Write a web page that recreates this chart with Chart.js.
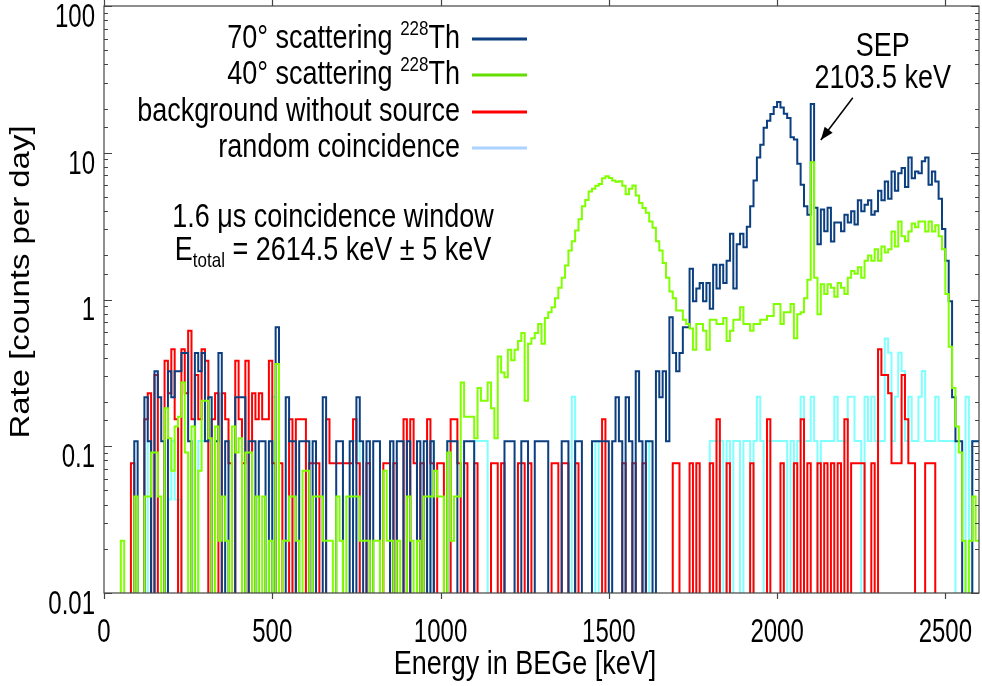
<!DOCTYPE html>
<html>
<head>
<meta charset="utf-8">
<script src="https://cdn.jsdelivr.net/npm/chart.js@4.4.0/dist/chart.umd.min.js"></script>
<style>
  html, body { margin: 0; padding: 0; background: #fff; }
  #wrap { width: 982px; height: 686px; }
</style>
</head>
<body>
<div id="wrap"><canvas id="c" width="982" height="686"></canvas></div>
<script>
// histogram binning (keV)
const binWidth = 10;

// counts per 10 keV bin, one row = 100 keV
const counts70 = [
  [0,0,0,0,0,0,0,0,0,1], [0,0,2,1,0,3,2,1,0,3], [2,3,3,4,4,1,0,4,3,4], [1,2,0,1,4,0,1,0,0,2],
  [2,2,0,1,1,0,1,1,0,1], [0,6,0,0,2,1,1,0,1,1], [1,0,1,0,0,2,0,0,0,1], [1,0,0,1,0,2,1,0,1,0],
  [1,1,0,0,0,1,0,1,1,0], [1,0,0,1,0,1,0,1,0,0], [0,0,1,1,1,0,0,1,1,1], [0,0,0,0,0,0,0,0,0,1],
  [1,1,0,0,1,1,0,0,1,1], [1,1,0,0,0,0,1,1,0,0], [1,1,0,0,0,1,1,1,1,1], [0,1,2,1,0,2,1,0,3,1],
  [0,1,1,0,3,2,3,1,7,4], [3,4,6,6,15,9,11,12,9,12], [8,16,11,16,12,17,26,11,22,26],
  [21,29,40,60,86,105,137,153,170,190], [205,188,171,160,118,114,78,56,40,35],
  [199,39,22,38,27,39,23,31,31,27], [35,31,37,30,44,37,41,44,35,37],
  [51,44,59,45,69,51,67,73,54,86], [62,69,67,81,86,56,69,59,45,28], [17,9,2,1,1,0,0,0,1,1]
];
const counts40 = [
  [0,0,0,0,0,1,0,0,0,2], [0,0,2,2,4,4,2,0,8,5], [3,6,7,12,4,0,6,0,3,9], [9,5,0,6,1,2,1,0,6,4],
  [5,0,4,4,0,2,0,2,0,1], [0,16,0,1,1,2,2,1,0,3], [3,0,2,2,2,1,1,1,0,2], [1,0,2,2,2,2,1,1,1,0],
  [1,1,0,3,1,1,0,1,0,0], [2,1,0,1,0,2,2,2,3,2], [2,0,4,1,2,2,12,7,7,7], [5,11,9,9,12,8,5,18,14,13],
  [20,17,20,23,26,9,22,24,26,30], [22,33,36,39,45,53,62,75,95,110],
  [130,155,190,210,240,250,262,270,295,305], [296,285,280,282,262,230,250,264,225,200],
  [185,172,150,136,110,95,78,62,50,45], [37,37,32,30,28,20,30,30,27,20],
  [32,32,30,30,33,23,27,32,32,39], [30,30,27,30,30,32,32,34,34,41],
  [41,30,36,36,41,24,35,36,45,60], [379,62,35,56,48,56,53,46,57,53],
  [48,62,69,66,73,62,81,88,81,97], [81,101,92,97,128,101,150,119,110,128],
  [145,137,150,150,128,150,128,141,119,97], [48,21,11,6,4,1,0,1,2,1]
];
const countsBg = [
  [0,0,0,0,0,0,0,0,1,0], [0,0,2,3,0,4,0,0,5,3], [6,2,0,6,3,8,2,4,2,6], [5,0,2,3,0,3,2,1,0,5],
  [2,1,5,0,3,2,3,2,2,5], [1,0,1,0,0,2,0,2,2,2], [0,1,1,1,0,0,2,1,1,1], [1,1,1,1,2,1,0,0,1,0],
  [0,0,0,1,1,0,1,0,0,2], [0,2,1,0,1,0,2,1,0,1], [1,0,0,2,2,1,0,1,0,0], [1,0,0,0,0,1,1,0,1,0],
  [0,0,0,1,1,0,1,0,0,0], [0,0,0,1,1,0,1,1,0,0], [1,0,0,0,0,0,0,0,2,0], [0,0,0,0,1,0,0,1,0,0],
  [1,0,0,0,0,0,0,0,0,1], [1,0,0,0,1,0,1,0,0,0], [1,0,2,0,0,1,0,0,0,0], [0,0,1,0,0,0,0,2,0,0],
  [0,1,0,0,0,1,0,2,0,1], [0,0,1,0,1,0,1,0,1,0], [2,0,1,1,1,1,0,0,1,0], [6,4,4,3,1,1,1,4,2,1],
  [1,0,0,0,1,1,1,0,0,0], [0,0,0,0,0,0,0,0,0,0]
];
const countsRandom = [
  [0,0,0,0,0,0,0,0,0,0], [0,0,0,5,0,0,0,0,0,2], [5,2,2,0,0,0,0,0,5,5], [5,0,0,0,0,0,0,0,0,0],
  [0,0,0,0,0,0,0,0,0,0], [10,0,0,0,0,5,0,0,0,0], [5,0,0,0,0,0,0,0,0,0], [0,0,0,0,5,5,0,0,0,0],
  [0,0,0,0,0,0,0,0,0,0], [0,0,0,0,0,0,0,5,0,0], [0,0,5,0,0,0,0,0,0,0], [5,5,5,5,0,0,0,0,0,0],
  [0,0,0,0,0,0,0,0,0,0], [0,0,0,0,0,0,0,0,0,10], [0,0,0,0,0,0,5,0,0,0], [0,0,0,0,0,0,0,0,0,0],
  [0,5,0,0,0,0,0,0,0,0], [0,0,0,0,0,0,0,0,0,0], [5,5,5,5,0,5,0,5,5,0], [5,5,0,5,10,5,0,5,5,5],
  [5,5,5,0,5,0,5,10,5,5], [10,5,0,5,5,5,5,10,5,5], [5,10,10,5,5,0,10,5,10,5],
  [5,5,25,20,5,10,20,15,5,10], [5,5,10,15,5,5,5,10,5,5], [5,5,5,0,0,0,10,0,5,5]
];

// rate (counts per day) of one count in each run
const unit70 = 0.108, unit40 = 0.0227, unitBg = 0.0765, unitRandom = 0.0217;

const xTickLabels = [0, 500, 1000, 1500, 2000, 2500];
const yTickLabels = ['0.01', '0.1', '1', '10', '100'];

const labels = ['70° scattering ', '40° scattering ', 'background without source', 'random coincidence'];
const colors = ['#0b3f80', '#80ff00', '#ff0000', '#80ffff'];
const legendColors = ['#0b3f80', '#66dd00', '#ff0000', '#aad4ff'];

const FONT = "'Liberation Sans', Arial, sans-serif";
const STRETCH = 1.22;      // text in the picture is drawn taller than wide
const TICK_STRETCH = 1.35;

function toSteps(rows, unit) {
  const c = rows.flat();
  const pts = c.map((n, i) => ({ x: i * binWidth, y: n > 0 ? n * unit : 1e-4 }));
  pts.push({ x: c.length * binWidth, y: pts[pts.length - 1].y });
  return pts;
}

function ds(i, rows, unit, order) {
  return {
    label: labels[i],
    data: toSteps(rows, unit),
    borderColor: colors[i],
    borderWidth: 2,
    pointRadius: 0,
    stepped: 'before',
    fill: false,
    clip: 0,
    order: order
  };
}

// tick labels are drawn taller than wide, as in the picture
const stretchPlugin = {
  id: 'stretch',
  beforeDraw(chart) {
    const ctx = chart.ctx;
    const orig = CanvasRenderingContext2D.prototype.fillText;
    ctx.fillText = function (t, x, y) {
      if (this.textBaseline === 'middle' && y < 12) y = 12; // keep "100" inside the canvas
      this.save();
      this.translate(x, y);
      this.scale(1, TICK_STRETCH);
      orig.call(this, t, 0, 0);
      this.restore();
    };
  },
  beforeDatasetsDraw(chart) {
    delete chart.ctx.fillText;
  }
};

// frame + tick marks
const framePlugin = {
  id: 'frame',
  afterDatasetsDraw(chart) {
    const { ctx, chartArea: a, scales } = chart;
    ctx.save();
    ctx.strokeStyle = '#444';
    ctx.lineWidth = 1.2;
    ctx.strokeRect(a.left, a.top, a.right - a.left, a.bottom - a.top);
    ctx.beginPath();
    scales.x.ticks.forEach(t => {
      const x = Math.round(scales.x.getPixelForValue(t.value)) + 0.5;
      ctx.moveTo(x, a.bottom); ctx.lineTo(x, a.bottom + 6);
      ctx.moveTo(x, a.top); ctx.lineTo(x, a.top - 6);
    });
    scales.y.ticks.forEach(t => {
      const lg = Math.log10(t.value);
      const major = Math.abs(lg - Math.round(lg)) < 1e-6;
      const len = major ? 8 : 4;
      const y = Math.round(scales.y.getPixelForValue(t.value)) + 0.5;
      ctx.moveTo(a.left, y); ctx.lineTo(a.left + len, y);
      ctx.moveTo(a.right, y); ctx.lineTo(a.right - len, y);
    });
    ctx.stroke();
    ctx.restore();
  }
};

function richText(ctx, parts, x, y, align, rot) {
  let w = 0;
  parts.forEach(p => { ctx.font = p.size + 'px ' + FONT; w += ctx.measureText(p.t).width; });
  ctx.save();
  ctx.translate(x, y);
  if (rot) { ctx.rotate(rot); ctx.scale(STRETCH, 1); }
  let cx = align === 'right' ? -w : align === 'center' ? -w / 2 : 0;
  parts.forEach(p => {
    ctx.font = p.size + 'px ' + FONT;
    ctx.save();
    ctx.translate(cx, p.dy || 0);
    if (!rot) ctx.scale(1, STRETCH);
    ctx.fillText(p.t, 0, 0);
    ctx.restore();
    cx += ctx.measureText(p.t).width;
  });
  ctx.restore();
}

const notesPlugin = {
  id: 'notes',
  afterDraw(chart) {
    const { ctx, scales } = chart;
    const X = v => scales.x.getPixelForValue(v);
    const Y = v => scales.y.getPixelForValue(v);
    ctx.save();
    ctx.fillStyle = '#000';
    ctx.textBaseline = 'middle';
    // axis titles
    richText(ctx, [{ t: 'Energy in BEGe [keV]', size: 27 }], 525, 665, 'center');
    richText(ctx, [{ t: 'Rate [counts per day]', size: 27 }], 22, 282, 'center', -Math.PI / 2);
    // legend
    const rows = [
      [{ t: labels[0], size: 27 }, { t: '228', size: 17, dy: -10 }, { t: 'Th', size: 27 }],
      [{ t: labels[1], size: 27 }, { t: '228', size: 17, dy: -10 }, { t: 'Th', size: 27 }],
      [{ t: labels[2], size: 27 }],
      [{ t: labels[3], size: 27 }]
    ];
    const rowY = [39, 75, 112, 148];
    rows.forEach((r, i) => {
      richText(ctx, r, 460, rowY[i], 'right');
      ctx.strokeStyle = legendColors[i];
      ctx.lineWidth = 3;
      ctx.beginPath();
      ctx.moveTo(472, rowY[i]); ctx.lineTo(527, rowY[i]);
      ctx.stroke();
    });
    // coincidence window note
    richText(ctx, [{ t: '1.6 μs coincidence window', size: 27 }], 333, 218, 'center');
    richText(ctx, [{ t: 'E', size: 27 }, { t: 'total', size: 17, dy: 10 }, { t: ' = 2614.5 keV ± 5 keV', size: 27 }], 333, 251, 'center');
    // SEP label and arrow
    richText(ctx, [{ t: 'SEP', size: 27 }], X(2314), Y(53), 'center');
    richText(ctx, [{ t: '2103.5 keV', size: 27 }], X(2314), Y(31.8), 'center');
    const x0 = X(2225), y0 = Y(23.7), x1 = X(2130), y1 = Y(12.2);
    ctx.strokeStyle = '#000';
    ctx.lineWidth = 1.5;
    ctx.beginPath(); ctx.moveTo(x0, y0); ctx.lineTo(x1, y1); ctx.stroke();
    const ang = Math.atan2(y1 - y0, x1 - x0);
    ctx.beginPath();
    ctx.moveTo(x1, y1);
    ctx.lineTo(x1 - 13 * Math.cos(ang) + 5 * Math.sin(ang), y1 - 13 * Math.sin(ang) - 5 * Math.cos(ang));
    ctx.lineTo(x1 - 13 * Math.cos(ang) - 5 * Math.sin(ang), y1 - 13 * Math.sin(ang) + 5 * Math.cos(ang));
    ctx.closePath();
    ctx.fill();
    ctx.restore();
  }
};

new Chart(document.getElementById('c'), {
  type: 'line',
  data: {
    datasets: [
      ds(0, counts70, unit70, 1),
      ds(1, counts40, unit40, 0),
      ds(2, countsBg, unitBg, 2),
      ds(3, countsRandom, unitRandom, 3)
    ]
  },
  options: {
    responsive: false,
    animation: false,
    events: [],
    layout: { padding: { top: 6, right: 3, left: 0, bottom: 0 } },
    plugins: { legend: { display: false }, tooltip: { enabled: false } },
    scales: {
      x: {
        type: 'linear',
        min: 0,
        max: 2600,
        afterBuildTicks(s) { s.ticks = xTickLabels.map(v => ({ value: v })); },
        afterFit(s) { s.height = 93; s.paddingLeft = 0; s.paddingRight = 0; },
        grid: { display: false, drawTicks: false },
        border: { display: false },
        ticks: {
          autoSkip: false,
          color: '#000',
          padding: 26,
          maxRotation: 0,
          font: { family: FONT, size: 24 },
          callback: v => String(v)
        }
      },
      y: {
        type: 'logarithmic',
        min: 0.01,
        max: 100,
        afterFit(s) { s.width = 104; s.paddingTop = 0; s.paddingBottom = 0; },
        grid: { display: false, drawTicks: false },
        border: { display: false },
        ticks: {
          autoSkip: false,
          color: '#000',
          padding: 9,
          font: { family: FONT, size: 24 },
          callback: v => {
            const lg = Math.log10(v);
            return Math.abs(lg - Math.round(lg)) < 1e-6 ? yTickLabels[Math.round(lg) + 2] : '';
          }
        }
      }
    }
  },
  plugins: [stretchPlugin, framePlugin, notesPlugin]
});
</script>
</body>
</html>
